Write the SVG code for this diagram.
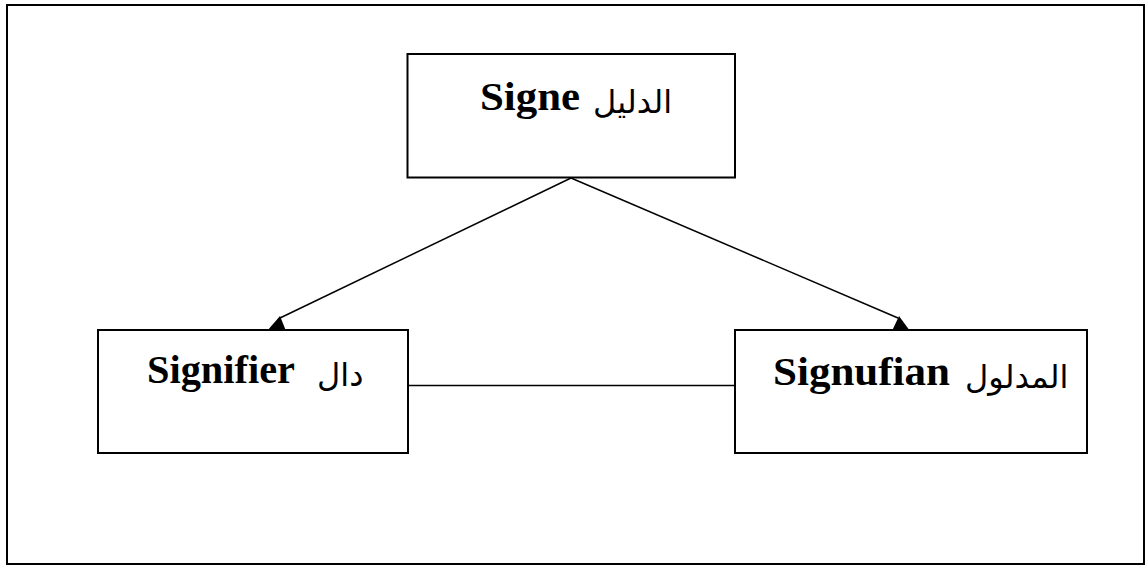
<svg xmlns="http://www.w3.org/2000/svg" width="1146" height="567" viewBox="0 0 1146 567">
<style>
.frame{fill:none;stroke:#000;stroke-width:2}
.box{fill:#fff;stroke:#000;stroke-width:2}
.ln{fill:none;stroke:#000;stroke-width:1.5}
.head{fill:#000;stroke:none}
.lat{font-family:"Liberation Serif",serif;font-weight:bold;font-size:39px;fill:#000}
.ar{font-family:"DejaVu Sans","Noto Sans",sans-serif;font-size:32px;fill:#000}
</style>
<rect width="1146" height="567" fill="#fff"/>
<rect class="frame" x="7" y="5" width="1137" height="559"/>
<g id="connectors">
<line class="ln" x1="571" y1="178" x2="280" y2="318"/>
<polygon class="head" points="267,331 286,331 280,316"/>
<line class="ln" x1="571" y1="178" x2="898" y2="318"/>
<polygon class="head" points="892,331 910,331 899,316"/>
<line class="ln" x1="408" y1="385.5" x2="735" y2="385.5"/>
</g>
<g id="signe">
<rect class="box" x="407.5" y="54" width="327.5" height="123.5"/>
<text class="lat" x="480" y="110" textLength="100" lengthAdjust="spacingAndGlyphs">Signe</text>
<text class="ar" x="593" y="113">الدليل</text>
</g>
<g id="signifier">
<rect class="box" x="98" y="330" width="310" height="123"/>
<text class="lat" x="147" y="383" textLength="148" lengthAdjust="spacingAndGlyphs">Signifier</text>
<text class="ar" x="317" y="386">دال</text>
</g>
<g id="signufian">
<rect class="box" x="735" y="330" width="352" height="123"/>
<text class="lat" x="773" y="385" textLength="177" lengthAdjust="spacingAndGlyphs">Signufian</text>
<text class="ar" x="965" y="388">المدلول</text>
</g>
</svg>
